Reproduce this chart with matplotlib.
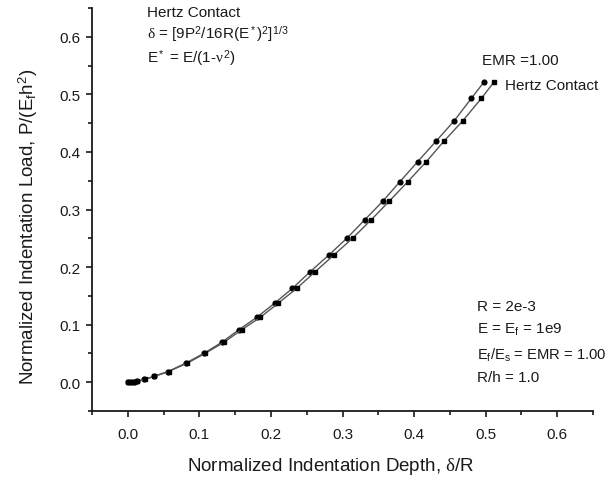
import matplotlib
matplotlib.use('Agg')
import matplotlib.pyplot as plt
from matplotlib.ticker import MultipleLocator

plt.rcParams['font.family'] = ['Liberation Sans', 'DejaVu Sans']
plt.rcParams['mathtext.fontset'] = 'custom'
plt.rcParams['mathtext.rm'] = 'Liberation Sans'
plt.rcParams['mathtext.it'] = 'Liberation Serif'
plt.rcParams['mathtext.bf'] = 'Liberation Sans:bold'

# normalized load levels (shared by both curves)
load = [0.0, 0.0003, 0.0008, 0.0016, 0.005, 0.010, 0.0186, 0.033, 0.050,
        0.069, 0.091, 0.1125, 0.137, 0.163, 0.191, 0.221, 0.250, 0.282,
        0.314, 0.348, 0.383, 0.419, 0.454, 0.493, 0.522]
# normalized depth, EMR = 1.00 (circles)
depth_emr = [0.0, 0.004, 0.008, 0.013, 0.023, 0.036, 0.056, 0.081, 0.106,
             0.131, 0.155, 0.180, 0.205, 0.230, 0.254, 0.281, 0.306, 0.331,
             0.356, 0.380, 0.405, 0.431, 0.456, 0.480, 0.498]
# normalized depth, Hertz contact (squares)
depth_hertz = [0.0, 0.004, 0.008, 0.013, 0.024, 0.037, 0.057, 0.083, 0.108,
               0.134, 0.159, 0.185, 0.210, 0.236, 0.261, 0.288, 0.314, 0.340,
               0.365, 0.391, 0.417, 0.442, 0.468, 0.494, 0.512]

ticks = [0.0, 0.1, 0.2, 0.3, 0.4, 0.5, 0.6]
tick_labels = ['0.0', '0.1', '0.2', '0.3', '0.4', '0.5', '0.6']

W, H = 609, 481
fig = plt.figure(figsize=(W / 100, H / 100), dpi=100)
ax = fig.add_axes([92 / W, 1 - 412 / H, (593 - 92) / W, (412 - 9) / H])

ink = '#1a1a1a'
ax.plot(depth_emr, load, '-o', color='#555555', lw=1.0, ms=3.4,
        mfc='black', mec='black')
ax.plot(depth_hertz, load, '-s', color='#555555', lw=1.0, ms=3.2,
        mfc='black', mec='black')

ax.set_xlim(-0.05, 0.65)
ax.set_ylim(-0.05, 0.65)
for s in ['top', 'right']:
    ax.spines[s].set_visible(False)
for s in ['left', 'bottom']:
    ax.spines[s].set_linewidth(1.3)
    ax.spines[s].set_color(ink)

ax.xaxis.set_minor_locator(MultipleLocator(0.05))
ax.yaxis.set_minor_locator(MultipleLocator(0.05))
ax.set_xticks(ticks)
ax.set_yticks(ticks)
ax.set_xticklabels(tick_labels)
ax.set_yticklabels(tick_labels)
ax.tick_params(which='major', direction='out', length=4.5, width=1.2,
               colors=ink, labelsize=11)
ax.tick_params(axis='x', which='major', pad=7)
ax.tick_params(axis='y', which='major', pad=4)
ax.tick_params(which='minor', direction='out', length=2.7, width=1.2,
               colors=ink)


def label(px, py, s, size=11, **kw):
    kw.setdefault('ha', 'left')
    fig.text(px / W, 1 - py / H, s, fontsize=size, color=ink,
             va='center', **kw)


# axis titles
label(331, 467, r'Normalized Indentation Depth, $\delta$/R', size=13.5,
      ha='center')
label(28, 227, r'Normalized Indentation Load, P/(E$_{\rm f}$h$^2$)',
      size=13.5, ha='center', rotation=90)

label(147, 13, 'Hertz Contact')
label(147, 35, r'$\delta$ = [9P$^2$/16R(E$^*$)$^2$]$^{1/3}$')
label(147, 59, r'E$^*$ = E/(1-$\nu^2$)')

label(482, 61, 'EMR =1.00')
label(505, 86, 'Hertz Contact')

label(477, 307, 'R = 2e-3')
label(477, 330, r'E = E$_{\rm f}$ = 1e9')
label(477, 355, r'E$_{\rm f}$/E$_{\rm s}$ = EMR = 1.00', size=10.6)
label(477, 378, 'R/h = 1.0')

fig.savefig('out.png', dpi=100)
